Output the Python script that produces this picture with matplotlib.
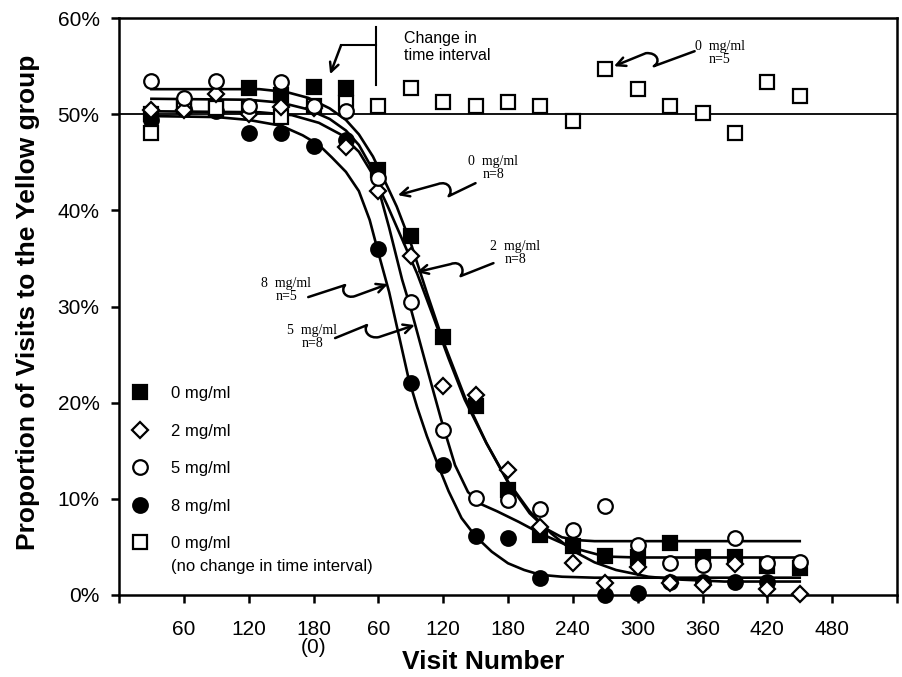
import numpy as np
import matplotlib.pyplot as plt
from matplotlib.path import Path
from matplotlib.patches import FancyArrowPatch

plt.rcParams['font.family'] = ['Liberation Sans', 'DejaVu Sans']

# position along the visit axis (the count restarts at 180 -> 0 after the change)
visits = [30, 60, 90, 120, 150, 180, 210, 240, 270, 300, 330,
          360, 390, 420, 450, 480, 510, 540, 570, 600, 630]

# percent of visits to the yellow group
mg0 = [50.0, 50.8, 50.5, 52.7, 52.0, 52.8, 52.7, 44.2, 37.3, 26.8, 19.7,
       10.9, 6.2, 5.1, 4.1, 3.9, 5.4, 4.0, 3.9, 3.0, 2.8]
mg2 = [50.4, 50.4, 52.1, 50.0, 50.7, 50.6, 46.6, 42.0, 35.3, 21.7, 20.8,
       13.0, 7.1, 3.3, 1.2, 2.9, 1.2, 1.0, 3.2, 0.6, 0.1]
mg5 = [53.4, 51.7, 53.4, 50.8, 53.3, 50.8, 50.3, 43.4, 30.5, 17.2, 10.1,
       9.9, 8.9, 6.8, 9.3, 5.2, 3.3, 3.1, 5.9, 3.3, 3.4]
mg8 = [49.4, 50.5, 50.3, 48.0, 48.0, 46.7, 47.3, 36.0, 22.0, 13.5, 6.1,
       5.9, 1.8, np.nan, 0.0, 0.2, 1.3, 1.4, 1.3, 1.4, np.nan]
mg0_nochange = [48.0, 50.8, 50.6, 50.6, 49.7, 50.9, 51.2, 50.8, 52.7, 51.3, 50.8,
                51.3, 50.8, 49.3, 54.7, 52.6, 50.8, 50.1, 48.0, 53.3, 51.9]

# fitted curves
fit0_x = [30, 130, 155, 175, 195, 210, 222, 235, 247, 257, 270, 285, 300, 320,
          340, 360, 380, 395, 410, 425, 440, 630]
fit0_y = [52.6, 52.6, 52.3, 51.7, 50.6, 49.4, 47.9, 45.6, 42.8, 40.4, 36.6, 31.4,
          26.4, 20.6, 15.8, 11.7, 8.5, 6.9, 6.0, 5.7, 5.6, 5.6]
fit2_x = [30, 130, 160, 185, 205, 222, 235, 248, 262, 276, 290, 305, 320, 340,
          360, 380, 400, 420, 440, 460, 490, 520, 560, 630]
fit2_y = [50.3, 50.2, 49.9, 49.1, 47.9, 46.1, 43.7, 40.6, 37.0, 33.4, 29.2, 24.6,
          20.3, 15.8, 11.8, 8.7, 6.4, 4.6, 3.4, 2.6, 1.9, 1.6, 1.4, 1.4]
fit5_x = [30, 120, 150, 175, 195, 210, 222, 232, 240, 250, 262, 270, 284, 298,
          311, 323, 336, 350, 370, 390, 420, 450, 480, 630]
fit5_y = [51.6, 51.5, 51.2, 50.5, 49.5, 48.3, 46.8, 44.8, 42.3, 38.2, 32.8, 29.8,
          24.0, 18.3, 13.5, 10.7, 9.4, 8.7, 7.6, 6.4, 4.9, 4.0, 3.9, 3.9]
fit8_x = [30, 90, 120, 150, 170, 185, 197, 210, 222, 232, 240, 250, 260, 268,
          276, 285, 296, 305, 317, 330, 345, 360, 375, 390, 410, 440, 630]
fit8_y = [49.8, 49.7, 49.4, 48.8, 47.8, 46.8, 45.5, 44.0, 42.0, 39.0, 35.6, 31.5,
          26.5, 22.5, 19.5, 16.5, 13.3, 10.8, 8.0, 6.1, 4.5, 3.3, 2.6, 2.1, 1.9,
          1.8, 1.8]

tick_pos = [0, 60, 120, 180, 240, 300, 360, 420, 480, 540, 600, 660, 720]
tick_labels = ['', '60', '120', '180\n(0)', '60', '120', '180', '240', '300',
               '360', '420', '480', '']


def px(x, y):
    # pixel position in the 903x677 picture -> data coordinates
    return ((x - 119) * 60 / 65.1, (595 - y) / 9.62)


fig = plt.figure(figsize=(9.03, 6.77), dpi=100)
ax = fig.add_axes([119 / 903, 82 / 677, 778 / 903, 577 / 677])

ax.axhline(50, color='black', lw=1.3, zorder=1)
for fx, fy in [(fit0_x, fit0_y), (fit2_x, fit2_y), (fit5_x, fit5_y), (fit8_x, fit8_y)]:
    ax.plot(fx, fy, color='black', lw=1.9, zorder=2, solid_joinstyle='round')

mew = 1.6
ax.plot(visits, mg0, 's', ms=10, mfc='black', mec='black', mew=mew,
        label='0 mg/ml', zorder=3, clip_on=False)
ax.plot(visits, mg8, 'o', ms=10.5, mfc='black', mec='black', mew=mew,
        label='8 mg/ml', zorder=4, clip_on=False)
ax.plot(visits, mg0_nochange, 's', ms=10, mfc='white', mec='black', mew=mew,
        label='0 mg/ml', zorder=5, clip_on=False)
ax.plot(visits, mg2, 'D', ms=8, mfc='white', mec='black', mew=mew,
        label='2 mg/ml', zorder=6, clip_on=False)
ax.plot(visits, mg5, 'o', ms=10.5, mfc='white', mec='black', mew=mew,
        label='5 mg/ml', zorder=7, clip_on=False)

ax.set_xlim(0, 718)
ax.set_ylim(0, 60)
ax.set_xticks(tick_pos)
ax.set_xticklabels(tick_labels, fontsize=15, linespacing=0.95)
ax.set_yticks([0, 10, 20, 30, 40, 50, 60])
ax.set_yticklabels(['0%', '10%', '20%', '30%', '40%', '50%', '60%'], fontsize=15)
ax.tick_params(axis='both', direction='out', length=6, width=1.8)
ax.tick_params(axis='x', pad=12)
ax.tick_params(axis='y', pad=8)
for s in ax.spines.values():
    s.set_linewidth(1.8)

ax.set_xlabel('Visit Number', fontsize=19, fontweight='bold')
ax.xaxis.set_label_coords(0.468, -0.096)
ax.set_ylabel('Proportion of Visits to the Yellow group', fontsize=19,
              fontweight='bold')
ax.yaxis.set_label_coords(-0.102, 0.508)

# legend in the fixed order of the figure
h, l = ax.get_legend_handles_labels()
order = [0, 3, 4, 1, 2]
ax.legend([h[i] for i in order], [l[i] for i in order], loc='upper left',
          bbox_to_anchor=(0.0163, 0.362), frameon=False, fontsize=12,
          handlelength=1.0, handletextpad=1.36, labelspacing=1.35, borderpad=0,
          borderaxespad=0)
ax.text(*px(171, 566), '(no change in time interval)', fontsize=12,
        ha='left', va='center')

# change in time interval marker
ax.plot(*zip(px(377, 27), px(377, 85)), color='black', lw=1.5)
ax.plot(*zip(px(377, 45), px(342, 45)), color='black', lw=1.5)
ax.annotate('', xy=px(331, 74), xytext=px(342, 45),
            arrowprops=dict(arrowstyle='->', lw=1.8, mutation_scale=16,
                            shrinkA=0, shrinkB=0))
ax.text(*px(405, 47), 'Change in\ntime interval', fontsize=11.5, va='center',
        ha='left', linespacing=1.2)

# squiggly arrows with their labels
serif = dict(family=['Liberation Serif', 'DejaVu Serif'], fontsize=10,
             ha='center', va='center', linespacing=1.0)
squiggles = [
    ('0  mg/ml\nn=5', (722, 53), [(697, 51), (656, 66), (663, 62), (660, 52), (648, 53), (616, 66)]),
    ('0  mg/ml\nn=8', (495, 168), [(477, 183), (450, 196), (455, 190), (450, 180), (439, 184), (399, 195)]),
    ('2  mg/ml\nn=8', (517, 253), [(495, 263), (462, 276), (467, 270), (462, 260), (452, 264), (418, 272)]),
    ('8  mg/ml\nn=5', (287, 290), [(309, 297), (346, 285), (341, 291), (347, 299), (356, 296), (389, 284)]),
    ('5  mg/ml\nn=8', (313, 337), [(336, 338), (368, 325), (364, 331), (370, 339), (380, 337), (416, 325)]),
]
for label, tpos, pts in squiggles:
    ax.text(*px(*tpos), label, **serif)
    verts = [px(*p) for p in pts]
    codes = [Path.MOVETO, Path.LINETO, Path.CURVE4, Path.CURVE4, Path.CURVE4, Path.LINETO]
    arrow = FancyArrowPatch(path=Path(verts, codes), arrowstyle='->', lw=1.8,
                            mutation_scale=16, color='black',
                            transform=ax.transData)
    ax.add_patch(arrow)

fig.savefig('out.png', dpi=100)
